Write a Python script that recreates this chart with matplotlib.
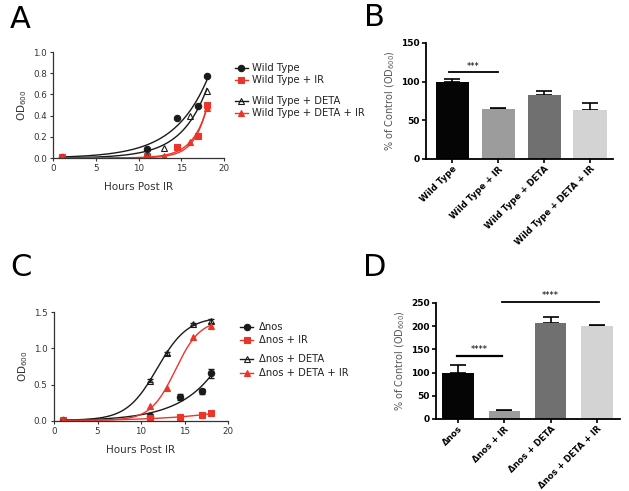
import numpy as np
import matplotlib
matplotlib.use("Agg")
import matplotlib.pyplot as plt
from matplotlib.lines import Line2D

# ---------------- data ----------------
hours_a = [1, 11, 14.5, 17, 18]
hours_a_deta = [1, 11, 13, 16, 18]
wt = [0.01, 0.085, 0.375, 0.495, 0.77]
wt_ir = [0.01, 0.02, 0.10, 0.21, 0.50]
wt_deta = [0.01, 0.02, 0.095, 0.40, 0.635]
wt_deta_ir = [0.01, 0.01, 0.02, 0.15, 0.47]
labels_a = ["Wild Type", "Wild Type + IR", "Wild Type + DETA", "Wild Type + DETA + IR"]

bar_b = [100, 65, 83, 64]
bar_b_err = [3, 1.5, 5, 9]

hours_c = [1, 11, 14.5, 17, 18]
hours_c_deta = [1, 11, 13, 16, 18]
nos = [0.01, 0.075, 0.33, 0.41, 0.655]
nos_err = [0.005, 0.02, 0.04, 0.035, 0.06]
nos_ir = [0.01, 0.035, 0.055, 0.08, 0.105]
nos_deta = [0.01, 0.555, 0.93, 1.335, 1.375]
nos_deta_err = [0.005, 0.02, 0.02, 0.02, 0.03]
nos_deta_ir = [0.01, 0.20, 0.455, 1.15, 1.31]
labels_c = ["\u0394nos", "\u0394nos + IR", "\u0394nos + DETA", "\u0394nos + DETA + IR"]

bar_d = [100, 17, 207, 200]
bar_d_err = [17, 3, 12, 3]

RED = "#ec3429"
BLK = "#1a1a1a"
bar_colors = ["#050505", "#9c9c9c", "#707070", "#d3d3d3"]


# ---------------- fits ----------------
def fit_exp(x, y):
    x = np.asarray(x, float); y = np.asarray(y, float)
    best = None
    for k in np.linspace(0.01, 1.5, 3000):
        e = np.exp(k * x)
        a = (y * e).sum() / (e * e).sum()
        err = ((a * e - y) ** 2).sum()
        if best is None or err < best[0]:
            best = (err, a, k)
    _, a, k = best
    return lambda t: a * np.exp(k * t)


def fit_logistic(x, y):
    x = np.asarray(x, float); y = np.asarray(y, float)
    b = y.min()
    x0s = np.linspace(8, 18, 201)[:, None, None]
    ss = np.linspace(0.5, 4, 141)[None, :, None]
    best = None
    for top in np.linspace(y.max() * 0.95, y.max() * 1.3, 50):
        pred = b + (top - b) / (1 + np.exp((x0s - x[None, None, :]) / ss))
        err = ((pred - y) ** 2).sum(axis=2)
        i = np.unravel_index(err.argmin(), err.shape)
        if best is None or err[i] < best[0]:
            best = (err[i], top, x0s[i[0], 0, 0], ss[0, i[1], 0])
    _, top, x0, s = best
    return lambda t: b + (top - b) / (1 + np.exp((x0 - t) / s))


W, H = 629, 491
fig = plt.figure(figsize=(W / 100, H / 100), dpi=100)
plt.rcParams["font.family"] = ["DejaVu Sans"]


def rect(l, r, t, b):
    return [l / W, 1 - b / H, (r - l) / W, (b - t) / H]


def style_line_ax(ax):
    for s in ["top", "right"]:
        ax.spines[s].set_visible(False)
    for s in ["left", "bottom"]:
        ax.spines[s].set_color("#333333")
        ax.spines[s].set_linewidth(0.9)
    ax.tick_params(labelsize=6.3, colors="#333333", length=2.5, width=0.8, pad=2)
    ax.set_xlim(0, 20)
    ax.set_xticks([0, 5, 10, 15, 20])
    ax.set_xlabel("Hours Post IR", fontsize=7.5, color="#333333", labelpad=6)
    ax.set_ylabel("OD$_{600}$", fontsize=7.5, color="#333333", labelpad=3)


def style_bar_ax(ax):
    for s in ["top", "right"]:
        ax.spines[s].set_visible(False)
    ax.spines["left"].set_linewidth(1.3)
    ax.spines["bottom"].set_linewidth(1.3)
    ax.tick_params(axis="y", labelsize=6.5, length=3, width=1.2, pad=1.5)
    ax.tick_params(axis="x", labelsize=6.2, length=3, width=1.2, pad=1)
    for lab in ax.get_yticklabels():
        lab.set_fontweight("bold")
    ax.set_ylabel("% of Control (OD$_{600}$)", fontsize=7, color="#555555", labelpad=3)


tfit = np.linspace(1, 18, 300)
MS = 4.6

# ---------------- Panel A ----------------
axA = fig.add_axes(rect(53, 224, 52, 158))
series_a = [
    (hours_a, wt, BLK, "o", BLK),
    (hours_a, wt_ir, RED, "s", RED),
    (hours_a_deta, wt_deta, BLK, "^", "none"),
    (hours_a_deta, wt_deta_ir, RED, "^", RED),
]
for x, y, c, m, fc in series_a:
    f = fit_exp(x, y)
    axA.plot(tfit, f(tfit), color=c, lw=1.0)
    axA.plot(x, y, ls="none", marker=m, ms=MS, color=c, mfc=fc, mew=0.8)
axA.set_ylim(0, 1.0)
axA.set_yticks(np.arange(0, 1.01, 0.2))
axA.yaxis.set_major_formatter(matplotlib.ticker.FormatStrFormatter("%.1f"))
style_line_ax(axA)

# ---------------- Panel C ----------------
axC = fig.add_axes(rect(54, 228, 312, 421))
series_c = [
    (hours_c, nos, nos_err, BLK, "o", BLK, fit_exp),
    (hours_c, nos_ir, None, RED, "s", RED, fit_exp),
    (hours_c_deta, nos_deta, nos_deta_err, BLK, "^", "none", fit_logistic),
    (hours_c_deta, nos_deta_ir, None, RED, "^", RED, fit_logistic),
]
for x, y, e, c, m, fc, fitter in series_c:
    f = fitter(x, y)
    axC.plot(tfit, f(tfit), color=c, lw=1.0)
    if e is not None:
        axC.errorbar(x, y, yerr=e, fmt="none", ecolor=c, elinewidth=0.8, capsize=2)
    axC.plot(x, y, ls="none", marker=m, ms=MS, color=c, mfc=fc, mew=0.8)
axC.set_ylim(0, 1.5)
axC.set_yticks([0, 0.5, 1.0, 1.5])
axC.yaxis.set_major_formatter(matplotlib.ticker.FormatStrFormatter("%.1f"))
style_line_ax(axC)


# ---------------- legends ----------------
def legend(x0, x1, xt, rows, labels, specs):
    for yy, lab, (c, m, fc) in zip(rows, labels, specs):
        fig.add_artist(Line2D([x0 / W, x1 / W], [1 - yy / H, 1 - yy / H], color=c, lw=1.0))
        fig.add_artist(Line2D([(x0 + x1) / 2 / W], [1 - yy / H], marker=m, ms=MS,
                              color=c, mfc=fc, mew=0.8, ls="none"))
        fig.text(xt / W, 1 - yy / H, lab, fontsize=7.2, color="#222222", va="center", ha="left")


specs = [(BLK, "o", BLK), (RED, "s", RED), (BLK, "^", "none"), (RED, "^", RED)]
legend(235, 248, 252, [68, 80, 101, 113], labels_a, specs)
legend(240, 253, 259, [327, 340, 359, 373], labels_c, specs)

# ---------------- Panel B ----------------
axB = fig.add_axes(rect(426, 613, 43, 159))
xb = np.arange(4)
axB.bar(xb, bar_b, width=0.72, color=bar_colors, zorder=2)
axB.errorbar(xb, bar_b, yerr=[[0] * 4, bar_b_err], fmt="none", ecolor="black",
             elinewidth=1.2, capsize=5.5, capthick=1.2, zorder=1)
axB.set_xlim(-0.57, 3.5)
axB.set_ylim(0, 150)
axB.set_yticks([0, 50, 100, 150])
axB.set_xticks(xb)
axB.set_xticklabels(labels_a, rotation=45, ha="right", rotation_mode="anchor", fontweight="bold")
style_bar_ax(axB)
axB.plot([-0.08, 1.0], [113, 113], color="black", lw=1.3, clip_on=False)
axB.text(0.46, 114, "***", ha="center", va="bottom", fontsize=6)

# ---------------- Panel D ----------------
axD = fig.add_axes(rect(436, 620, 303, 419))
axD.bar(xb, bar_d, width=0.68, color=bar_colors, zorder=2)
axD.errorbar(xb, bar_d, yerr=[[0] * 4, bar_d_err], fmt="none", ecolor="black",
             elinewidth=1.2, capsize=6, capthick=1.2, zorder=1)
axD.set_xlim(-0.48, 3.5)
axD.set_ylim(0, 250)
axD.set_yticks([0, 50, 100, 150, 200, 250])
axD.set_xticks(xb)
axD.set_xticklabels(labels_c, rotation=45, ha="right", rotation_mode="anchor", fontweight="bold")
style_bar_ax(axD)
axD.plot([-0.03, 0.95], [136, 136], color="black", lw=1.6, clip_on=False)
axD.text(0.46, 140, "****", ha="center", va="bottom", fontsize=6)
axD.plot([0.95, 3.05], [252, 252], color="black", lw=1.3, clip_on=False)
axD.text(2.0, 256, "****", ha="center", va="bottom", fontsize=6, clip_on=False)

# ---------------- panel letters ----------------
for lab, x, y in [("A", 10, 20), ("B", 364, 18), ("C", 10, 268), ("D", 363, 268)]:
    fig.text(x / W, 1 - y / H, lab, fontsize=22, va="center", ha="left")

fig.savefig("out.png", dpi=100)
